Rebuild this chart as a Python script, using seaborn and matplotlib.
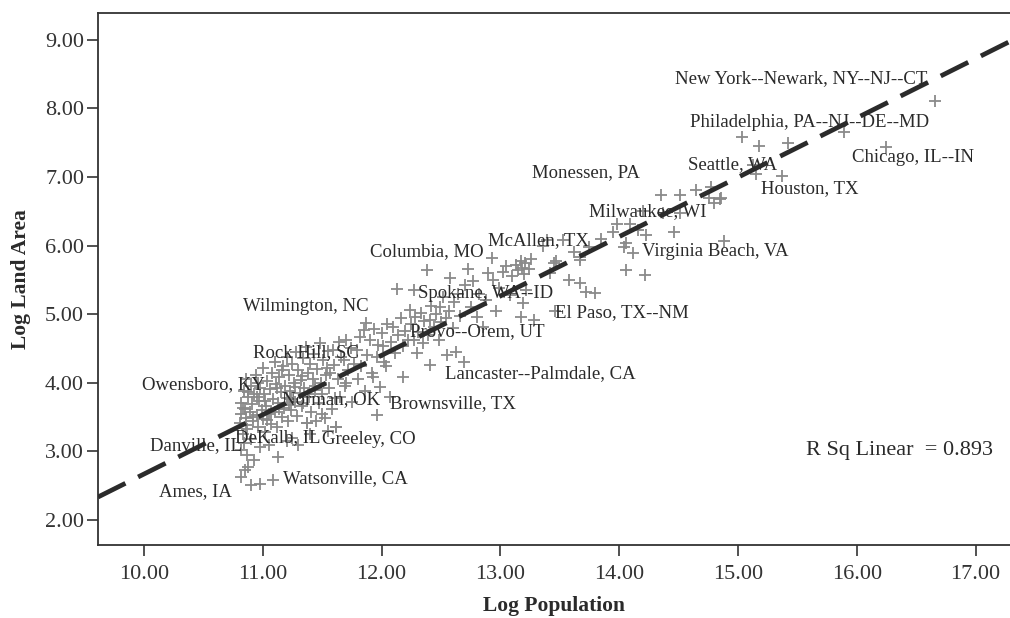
import numpy as np
import pandas as pd
import matplotlib
matplotlib.use("Agg")
import matplotlib.pyplot as plt
import seaborn as sns

# points (log population, log land area)
log_pop = [
    10.81, 10.82, 10.82, 10.83, 10.84, 10.85, 10.86, 10.86, 10.87, 10.88, 10.89, 10.90,
    10.90, 10.91, 10.92, 10.93, 10.94, 10.95, 10.96, 10.97, 10.98, 10.99, 11.00, 11.00,
    11.01, 11.02, 11.03, 11.04, 11.05, 11.06, 11.07, 11.08, 11.09, 11.10, 11.10, 11.11,
    11.12, 11.13, 11.14, 11.15, 11.16, 11.17, 11.18, 11.19, 11.20, 11.20,
    11.21, 11.22, 11.23, 11.24, 11.25, 11.26, 11.27, 11.28, 11.29, 11.30, 11.31, 11.32,
    11.33, 11.34, 11.35, 11.36, 11.37, 11.38, 11.39, 11.40, 11.41, 11.42, 11.43, 11.44,
    11.46, 11.47, 11.48, 11.49, 11.50, 11.51, 11.52, 11.53, 11.55, 11.56, 11.57, 11.58,
    11.59, 11.60, 11.61, 11.62, 11.63, 11.64, 11.65, 11.66, 11.68, 11.69, 11.70, 11.70,
    11.72, 11.74, 11.75, 11.77, 11.79, 11.80,
    11.82, 11.83, 11.85, 11.86, 11.87, 11.88, 11.90, 11.92, 11.93, 11.94, 11.96, 11.96,
    11.97, 11.99, 12.00, 12.01, 12.02, 12.04, 12.05, 12.07, 12.08, 12.10, 12.11, 12.13,
    12.14, 12.16, 12.18, 12.18, 12.20,
    12.22, 12.24, 12.25, 12.27, 12.27, 12.28, 12.30, 12.31, 12.33, 12.35, 12.36, 12.38,
    12.39, 12.41, 12.41, 12.42, 12.44, 12.46, 12.48, 12.49, 12.50, 12.52, 12.54, 12.55,
    12.57, 12.58, 12.60, 12.61, 12.63, 12.64, 12.66, 12.69, 12.70,
    12.73, 12.75, 12.77, 12.80, 12.82, 12.85, 12.88, 12.90, 12.93, 12.94, 12.96, 12.99,
    13.02, 13.05, 13.08, 13.10, 13.13, 13.15, 13.17, 13.17, 13.18, 13.19, 13.20, 13.21,
    13.22, 13.24, 13.26, 13.28,
    13.36, 13.39, 13.42, 13.45, 13.46, 13.47, 13.53, 13.58, 13.62, 13.67, 13.67, 13.67,
    13.72, 13.75, 13.80, 13.85, 13.95, 13.98, 14.04, 14.06, 14.06, 14.09, 14.12, 14.16,
    14.20, 14.22, 14.23,
    14.35, 14.37, 14.46, 14.51, 14.51, 14.65, 14.76, 14.77, 14.80, 14.85, 14.86, 14.88,
    15.03, 15.13, 15.15, 15.18, 15.37, 15.42, 15.89, 16.25, 16.66,
    10.82, 10.93, 10.85, 10.88, 10.82, 10.90, 10.98, 11.09, 10.98, 11.13, 11.05, 11.20,
    11.30, 11.40, 11.55, 11.37, 11.62, 10.84, 10.87, 11.25, 11.45, 11.50,
    10.83, 10.88, 10.92, 10.96, 11.02, 11.07, 11.12, 11.16, 11.22, 11.27, 11.33, 11.38,
    10.86, 10.95, 11.04, 11.14, 11.24, 11.34, 11.44, 11.54,
]
log_area = [
    3.42, 3.55, 3.71, 3.26, 3.88, 3.62, 3.48, 4.05, 3.33, 3.79, 3.58, 3.95,
    3.18, 3.69, 3.44, 3.84, 4.12, 3.53, 3.36, 3.74, 3.92, 3.61, 4.21, 3.47,
    3.83, 3.29, 3.66, 4.02, 3.55, 3.91, 3.40, 4.15, 3.76, 3.58, 4.30, 3.98,
    3.35, 3.70, 4.08, 3.86, 3.50, 4.24, 3.64, 3.95, 4.38, 3.78,
    3.44, 4.12, 3.88, 3.60, 4.28, 3.99, 3.72, 4.45, 3.52, 4.18, 3.85, 4.04,
    3.66, 4.36, 3.93, 4.52, 3.41, 4.14, 3.79, 4.27, 3.58, 4.06, 4.42, 3.90,
    4.20, 3.70, 4.58, 4.00, 3.84, 4.33, 3.48, 4.12, 4.46, 3.92, 4.14, 3.62,
    4.48, 4.26, 3.78, 3.36, 4.05, 4.60, 3.80, 4.38, 4.33, 3.95, 4.63, 3.99,
    4.18, 4.50, 3.72, 4.28, 4.48, 4.05,
    4.67, 4.25, 4.77, 3.88, 4.87, 4.40, 4.62, 4.15, 4.09, 4.78, 4.38, 3.53,
    4.55, 3.94, 4.72, 4.53, 4.30, 4.24, 4.85, 3.80, 4.60, 4.82, 4.44, 5.37,
    4.70, 4.95, 4.09, 4.53, 4.76,
    4.63, 5.06, 4.86, 4.63, 5.35, 4.96, 4.43, 4.74, 5.02, 4.58, 4.90, 5.65,
    4.70, 4.92, 4.26, 5.12, 4.82, 5.00, 4.62, 5.11, 4.88, 5.25, 4.95, 4.40,
    5.05, 5.53, 4.80, 5.18, 4.45, 5.30, 4.98, 4.31, 5.42,
    5.66, 5.10, 5.48, 4.96, 5.30, 4.82, 5.20, 5.60, 5.82, 5.50, 5.05, 5.38,
    5.62, 5.70, 5.28, 5.55, 5.72, 5.64, 5.77, 4.96, 5.68, 5.16, 5.58, 5.74,
    5.35, 5.66, 5.80, 4.92,
    5.99, 6.08, 5.60, 5.75, 5.04, 5.77, 6.08, 5.50, 5.90, 5.79, 5.46, 5.84,
    5.33, 5.98, 5.31, 6.10, 6.20, 6.32, 5.98, 6.04, 5.65, 6.32, 5.89, 6.22,
    6.50, 5.57, 6.16,
    6.74, 6.48, 6.20, 6.73, 6.48, 6.81, 6.70, 6.86, 6.62, 6.68, 6.70, 6.06,
    7.58, 7.18, 7.04, 7.45, 7.01, 7.49, 7.66, 7.44, 8.11,
    3.02, 2.87, 2.73, 2.78, 2.63, 2.51, 2.53, 2.58, 3.07, 2.92, 3.10, 3.15,
    3.10, 3.25, 3.30, 3.41, 3.36, 3.12, 2.95, 3.20, 3.45, 3.55,
    3.64, 3.87, 3.50, 4.00, 3.74, 3.58, 3.92, 4.18, 3.68, 3.94, 4.10, 3.84,
    3.38, 3.80, 3.46, 3.62, 3.76, 3.70, 3.96, 4.22,
]

# fitted line
fit_intercept = -5.98
fit_slope = 0.865
r_sq = 0.893

city_names = [
    "New York--Newark, NY--NJ--CT", "Philadelphia, PA--NJ--DE--MD", "Chicago, IL--IN",
    "Seattle, WA", "Houston, TX", "Monessen, PA", "Milwaukee, WI", "Virginia Beach, VA",
    "McAllen, TX", "Columbia, MO", "Spokane, WA--ID", "El Paso, TX--NM",
    "Wilmington, NC", "Provo--Orem, UT", "Lancaster--Palmdale, CA", "Rock Hill, SC",
    "Owensboro, KY", "Norman, OK", "Brownsville, TX", "DeKalb, IL", "Greeley, CO",
    "Danville, IL", "Watsonville, CA", "Ames, IA",
]
city_x = [14.47, 14.60, 15.96, 14.58, 15.19, 13.27, 13.75, 14.19, 12.90, 11.90, 12.31, 13.46,
          10.83, 12.24, 12.53, 10.92, 9.98, 11.16, 12.07, 10.77, 11.50, 10.05, 11.17, 10.13]
city_y = [8.43, 7.80, 7.29, 7.18, 6.83, 7.06, 6.49, 5.91, 6.07, 5.91, 5.30, 5.03,
          5.11, 4.74, 4.14, 4.44, 3.97, 3.75, 3.69, 3.20, 3.17, 3.08, 2.60, 2.42]

df = pd.DataFrame({"Log Population": log_pop, "Log Land Area": log_area})

sns.set_style("ticks")
plt.rcParams["font.family"] = ["Liberation Serif", "DejaVu Serif"]

fig = plt.figure(figsize=(10.1, 6.18), dpi=100)
ax = fig.add_axes([0.097, 0.118, 0.903, 0.861])

sns.scatterplot(data=df, x="Log Population", y="Log Land Area", marker="+",
                color="#8a8a8a", s=70, linewidth=1.3, ax=ax, zorder=2)

ax.axline((0, fit_intercept), slope=fit_slope, color="#2b2b2b", lw=3.4,
          linestyle=(0, (6.5, 3)), zorder=3)

for name, cx, cy in zip(city_names, city_x, city_y):
    ax.text(cx, cy, name, fontsize=13.5, color="#2a2a2a", ha="left", va="center", zorder=4)

ax.text(15.57, 3.02, f"R Sq Linear  = {r_sq:.3f}", fontsize=16, color="#2a2a2a",
        ha="left", va="center")

ax.set_xlim(9.613, 17.29)
ax.set_ylim(1.635, 9.39)
ax.set_xticks(np.arange(10, 18, 1))
ax.set_yticks(np.arange(2, 10, 1))
ax.xaxis.set_major_formatter(matplotlib.ticker.FormatStrFormatter("%.2f"))
ax.yaxis.set_major_formatter(matplotlib.ticker.FormatStrFormatter("%.2f"))
ax.tick_params(axis="both", direction="out", length=8, width=1.2, colors="#333333",
               labelsize=16, labelcolor="#333333")
ax.tick_params(axis="y", pad=2)
ax.tick_params(axis="x", pad=6)
ax.set_xlabel("Log Population", fontsize=15.5, fontweight="bold", color="#2a2a2a",
              labelpad=9)
ax.set_ylabel("Log Land Area", fontsize=15.5, fontweight="bold", color="#2a2a2a",
              labelpad=10)

for side in ["left", "bottom", "top"]:
    ax.spines[side].set_color("#333333")
    ax.spines[side].set_linewidth(1.3)
    ax.spines[side].set_visible(True)
ax.spines["right"].set_visible(False)

fig.savefig("out.png", dpi=100)
